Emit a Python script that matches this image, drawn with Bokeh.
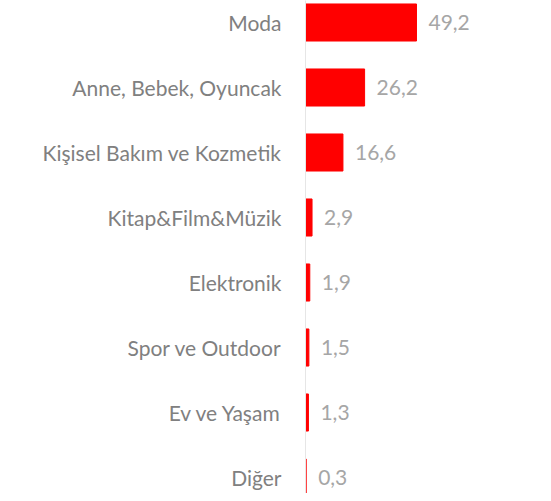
from bokeh.plotting import figure
from bokeh.models import Range1d, FixedTicker, ColumnDataSource
from bokeh.embed import file_html
from bokeh.resources import INLINE

categories = ["Moda", "Anne, Bebek, Oyuncak", "Kişisel Bakım ve Kozmetik",
              "Kitap&Film&Müzik", "Elektronik", "Spor ve Outdoor",
              "Ev ve Yaşam", "Diğer"]
values = [49.2, 26.2, 16.6, 2.9, 1.9, 1.5, 1.3, 0.3]

positions = list(range(len(categories)))
labels = [f"{v:.1f}".replace(".", ",") for v in values]

src = ColumnDataSource(dict(y=positions, v=values, lab=labels))

p = figure(width=535, height=493, output_backend="svg", toolbar_location=None,
           x_range=Range1d(0, 101.95), y_range=Range1d(7.246, -0.3385),
           min_border_left=305, min_border_right=0, min_border_top=0, min_border_bottom=0)
p.outline_line_color = None
p.xgrid.visible = False
p.ygrid.visible = False
p.xaxis.visible = False

p.hbar(y="y", left=0, right="v", height=0.57, color="#ff0000", source=src)
p.text(x="v", y="y", text="lab", source=src, x_offset=12, text_baseline="middle",
       text_align="left", text_color="#a6a6a6", text_font_size="21px",
       text_font={"value": "Lato"})

ax = p.yaxis[0]
ax.ticker = FixedTicker(ticks=positions)
ax.major_label_overrides = {i: c for i, c in zip(positions, categories)}
ax.major_tick_line_color = None
ax.minor_tick_line_color = None
ax.axis_line_color = "#e6e6e6"
ax.major_label_standoff = 18
ax.major_label_text_font = "Lato"
ax.major_label_text_font_size = "21px"
ax.major_label_text_color = "#808080"

open("out.html", "w").write(file_html(p, INLINE))
